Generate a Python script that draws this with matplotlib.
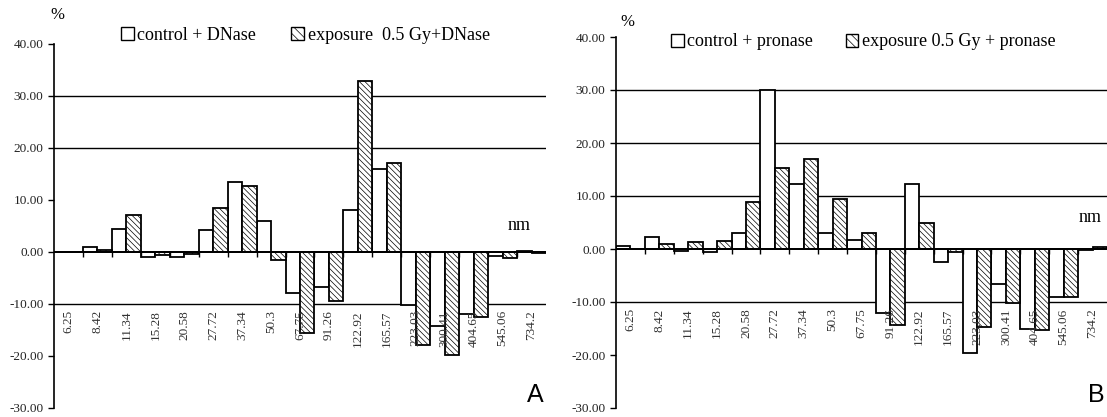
import numpy as np
import matplotlib
matplotlib.use("Agg")
import matplotlib.pyplot as plt
from matplotlib.patches import Patch

plt.rcParams['font.family'] = ['Liberation Serif', 'DejaVu Serif']
plt.rcParams['axes.unicode_minus'] = False
plt.rcParams['hatch.linewidth'] = 0.5

sizes = ['6.25', '8.42', '11.34', '15.28', '20.58', '27.72', '37.34', '50.3', '67.75',
         '91.26', '122.92', '165.57', '223.03', '300.41', '404.65', '545.06', '734.2']

# panel A: DNase
ctrl_dnase = [0, 1.0, 4.5, -1.0, -1.0, 4.2, 13.5, 5.9, -7.8, -6.8, 8.0, 16.0,
              -10.1, -14.2, -12.0, -0.8, 0.25]
exp_dnase = [0, 0.45, 7.2, -0.6, -0.3, 8.4, 12.6, -1.5, -15.6, -9.4, 32.9, 17.2,
             -17.8, -19.8, -12.5, -1.1, -0.2]

# panel B: pronase
ctrl_pronase = [0.5, 2.2, -0.3, -0.6, 3.0, 30.0, 12.3, 3.1, 1.7, -12.1, 12.3, -2.5,
                -19.6, -6.6, -15.1, -9.0, -0.1]
exp_pronase = [0, 0.9, 1.4, 1.6, 8.9, 15.3, 17.0, 9.4, 3.1, -14.4, 5.0, -0.5,
               -14.7, -10.2, -15.2, -9.0, 0.3]

legend_a = ['control + DNase', 'exposure  0.5 Gy+DNase']
legend_b = ['control + pronase', 'exposure 0.5 Gy + pronase']

W, H = 1107, 417
fig = plt.figure(figsize=(W / 100, H / 100), dpi=100)


def panel(rect, ctrl, expo, grid, labels, letter, leg_xy, colsp, nm_xy, pct_xy):
    ax = fig.add_axes(rect)
    x = np.arange(len(sizes))
    for g in grid:
        ax.axhline(g, color='black', lw=1.0, zorder=0)
    ax.bar(x - 0.25, ctrl, width=0.5, color='white', edgecolor='black', lw=1.3, zorder=2)
    ax.bar(x + 0.25, expo, width=0.5, color='white', edgecolor='black', lw=1.3,
           hatch='\\\\\\\\\\\\', zorder=2)
    ax.axhline(0, color='black', lw=1.4, zorder=3)

    ax.set_xlim(-0.5, len(sizes) - 0.5)
    ax.set_ylim(-30, 40)
    ax.set_yticks(np.arange(-30, 41, 10))
    ax.yaxis.set_major_formatter(matplotlib.ticker.FormatStrFormatter('%.2f'))
    ax.tick_params(axis='y', labelsize=9.5, labelcolor='#222222', length=4, width=1)

    for s in ['top', 'right']:
        ax.spines[s].set_visible(False)
    ax.spines['bottom'].set_visible(False)
    ax.spines['left'].set_linewidth(1.2)
    ax.set_xticks(x[:-1] + 0.5)
    ax.set_xticklabels([])
    ax.tick_params(axis='x', length=0)
    ax.vlines(x[:-1] + 0.5, -0.9, 0, color='black', lw=1.0, zorder=3)

    for i, s in enumerate(sizes):
        ax.text(i, -11.2, s, rotation=90, ha='center', va='top', fontsize=9.5,
                color='#333333')

    fig.text(pct_xy[0] / W, 1 - pct_xy[1] / H, '%', fontsize=12, ha='center', va='center')
    fig.text(nm_xy[0] / W, 1 - nm_xy[1] / H, 'nm', fontsize=13, ha='center', va='center')
    fig.text(rect[0] + rect[2] - 0.002, 1 - 395 / H, letter, fontsize=18,
             family='Liberation Sans', ha='right', va='center')

    handles = [Patch(facecolor='white', edgecolor='black', lw=1.0),
               Patch(facecolor='white', edgecolor='black', lw=1.0, hatch='\\\\\\\\')]
    fig.legend(handles, labels, loc='center left',
               bbox_to_anchor=(leg_xy[0] / W, 1 - leg_xy[1] / H), ncol=2,
               frameon=False, fontsize=13, handlelength=0.7, handleheight=0.7,
               handletextpad=0.2, columnspacing=colsp, borderaxespad=0, borderpad=0)
    return ax


panel([54 / W, 1 - 408 / H, 492 / W, 364 / H], ctrl_dnase, exp_dnase, [30, 20, -10],
      legend_a, 'A', (121, 35), 1.95, (519, 226), (57, 15))
panel([616 / W, 1 - 408 / H, 491 / W, 371 / H], ctrl_pronase, exp_pronase,
      [30, 20, 10, -10], legend_b, 'B', (671, 42), 1.8, (1090, 218), (627, 22))

fig.savefig('out.png', dpi=100)
